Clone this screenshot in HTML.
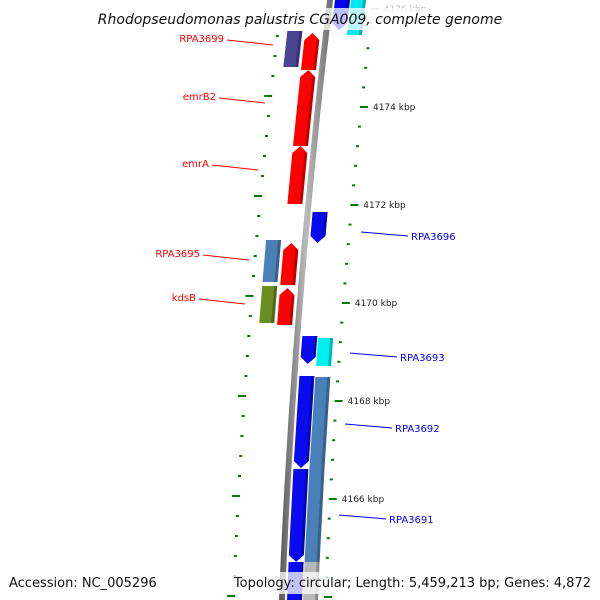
<!DOCTYPE html>
<html><head><meta charset="utf-8"><style>
html,body{margin:0;padding:0;background:#fff;width:600px;height:600px;overflow:hidden}
svg{display:block;font-family:"DejaVu Sans","Liberation Sans",sans-serif}
</style></head><body>
<svg id="map" width="600" height="600" viewBox="0 0 600 600" xmlns="http://www.w3.org/2000/svg">
<defs>
<linearGradient id="bb" x1="0" x2="1" y1="0" y2="0"><stop offset="0" stop-color="#555"/><stop offset="0.5" stop-color="#bbb"/><stop offset="1" stop-color="#666"/></linearGradient>
</defs>
<g id="backbone-g"></g>
<g id="ticks-g"></g>
<g id="genes-g"></g>
<g id="labels-g"></g>
<rect x="95" y="8" width="410" height="22" fill="#fff" opacity="0.75"/>
<text x="300" y="24" text-anchor="middle" font-size="14" font-style="italic" fill="#111">Rhodopseudomonas palustris CGA009, complete genome</text>
<rect x="0" y="572" width="600" height="22" fill="#fff" opacity="0.75"/>
<text x="9" y="587" font-size="13" fill="#111">Accession: NC_005296</text>
<text x="591" y="587" font-size="13" fill="#111" text-anchor="end">Topology: circular; Length: 5,459,213 bp; Genes: 4,872</text>
</svg>
<script>
// data
const geneNames=["g-top-blue","g-top-cyan","RPA3699-b","RPA3699","emrB2","emrA","RPA3696","RPA3695","g-red-3695","kdsB","g-red-kdsB","RPA3693","g-cyan-3693","g-blue-3692","RPA3692","g-blue-3691","RPA3691","g-blue-bot","g-gray-bot"];
const geneStart=[-10,-10,31,33,70,146,212,240,243,286,288,336,338,376,377,469,468,562,562];
const geneEnd=[30,35,67,70,146,204,243,282,285,323,325,364,366,468,468,562,562,610,610];
const geneLane=[1,2,-2,-1,-1,-1,1,-2,-1,-2,-1,1,2,1,2,1,2,1,2];
const geneDir=[1,0,0,-1,-1,-1,1,0,-1,0,-1,1,0,1,0,1,0,1,0];
const geneColor=["#0000ee","#00e8f0","#4b4394","#ff0000","#ff0000","#ff0000","#0a0af0","#4a80b8","#ff0000","#6b8e23","#ff0000","#0a0af0","#00f0f0","#0a0af0","#4a80b8","#0a0af0","#4a80b8","#0a0af0","#b8b8b8"];
const leftLabels=["RPA3699","emrB2","emrA","RPA3695","kdsB"];
const leftLabelY=[38,96,163,253,297];
const rightLabels=["RPA3696","RPA3693","RPA3692","RPA3691"];
const rightLabelY=[236,357,428,519];
const kbpLabels=[4176,4174,4172,4170,4168,4166];

const NS="http://www.w3.org/2000/svg";
function xb(y){return 330-0.1194*y+0.0000656*y*y;}
function yR(k){return 107+(4174-k)*49;}
function yL(k){return 96+(4174-k)*50;}
function mk(t,a,p){const e=document.createElementNS(NS,t);for(const k in a)e.setAttribute(k,a[k]);p.appendChild(e);return e;}
function P(u,y){return (xb(y)+u).toFixed(1)+","+y.toFixed(1);}

// backbone
const bg=document.getElementById('backbone-g');
let pts=[];for(let y=-5;y<=605;y+=10)pts.push(P(-3,y));for(let y=605;y>=-5;y-=10)pts.push(P(3,y));
const bbp=mk('polygon',{points:pts.join(' '),fill:'url(#bb)'},bg);



// ticks
const tg=document.getElementById('ticks-g');
for(let k=4177.2;k>=4163.4;k-=0.4){
  const kk=Math.round(k*10)/10;const major=Math.abs(kk/2-Math.round(kk/2))<0.01;
  const y1=yR(kk);const len=major?8:3;
  if(y1>-5&&y1<605){const l=mk('line',{x1:xb(y1)+42,y1:y1,x2:xb(y1)+42+len,y2:y1,stroke:'#007a00','stroke-width':2,opacity:y1<35?0.3:1},tg);
    
    }
  const y2=yL(kk);
  if(y2>30&&y2<605){const l=mk('line',{x1:xb(y2)-47-len,y1:y2,x2:xb(y2)-47,y2:y2,stroke:'#007a00','stroke-width':2},tg);
    
    }
}
kbpLabels.forEach(k=>{const y=yR(k);
  const t=mk('text',{x:xb(y)+55,y:y+3,'font-size':9,fill:k==4176?'#bbb':'#222'},tg);t.textContent=k+' kbp';
  
  });

// genes
const gg=document.getElementById('genes-g');
function lane(l){return l==1?[5,20]:l==2?[21,36]:l==-1?[-21,-6]:[-39,-24];}
for(let i=0;i<geneNames.length;i++){
  const [u0,u1]=lane(geneLane[i]);const um=(u0+u1)/2;let a=geneStart[i],b=geneEnd[i];const d=geneDir[i];
  let poly=[];
  if(d==-1){poly=[P(u0,b),P(u0,a+7),P(um,a),P(u1,a+7),P(u1,b)];}
  else if(d==1){poly=[P(u0,a),P(u1,a),P(u1,b-7),P(um,b),P(u0,b-7)];}
  else poly=[P(u0,a),P(u1,a),P(u1,b),P(u0,b)];
  const g=mk('polygon',{points:poly.join(' '),fill:geneColor[i]},gg);
  
  
  const sh=mk('polygon',{points:[P(u1-3,a+(d==-1?6:0)),P(u1,a+(d==-1?7:0)),P(u1,b-(d==1?7:0)),P(u1-3,b-(d==1?6:0))].join(' '),fill:'#000',opacity:0.25},gg);
  
  
}
// labels
const lg=document.getElementById('labels-g');
const lx=[[181,227,273],[186,219,265],[183,212,258],[158,203,249],[174,199,245]];
leftLabels.forEach((n,i)=>{const y=leftLabelY[i];
  const l=mk('line',{x1:lx[i][1],y1:y+2,x2:lx[i][2],y2:y+7,stroke:'#f00','stroke-width':1},lg);
  
  
  const t=mk('text',{x:lx[i][1]-3,y:y+4,'font-size':10,fill:'#f00','text-anchor':'end'},lg);t.textContent=n;
  
  });
const rx=[[361,408],[350,397],[345,392],[339,386]];
rightLabels.forEach((n,i)=>{const y=rightLabelY[i];
  const l=mk('line',{x1:rx[i][0],y1:y-4,x2:rx[i][1],y2:y,stroke:'#00f','stroke-width':1},lg);
  
  
  const t=mk('text',{x:rx[i][1]+3,y:y+4,'font-size':10,fill:'#00f'},lg);t.textContent=n;
  
  });
</script>
</body></html>
